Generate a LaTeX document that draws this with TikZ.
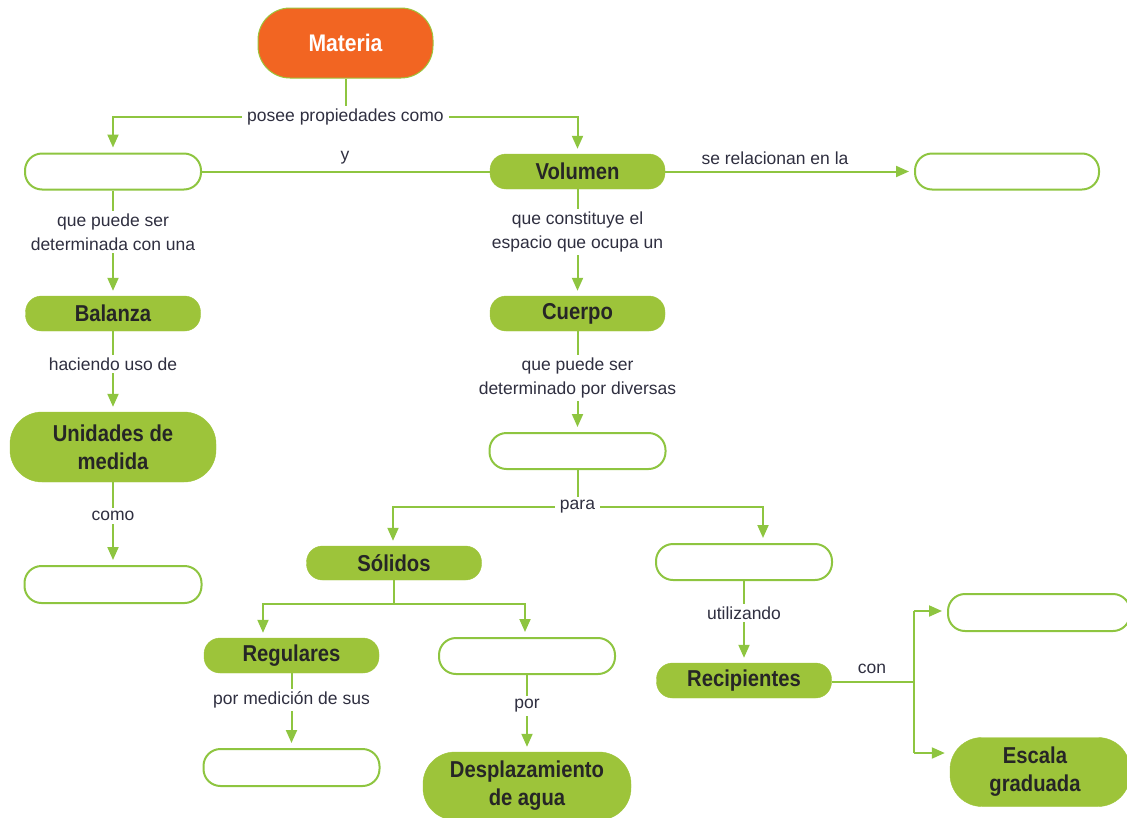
\documentclass[tikz,border=0pt]{standalone}
\usepackage{fontspec}
\setmainfont{Liberation Sans}
\newfontfamily\nodefont[FakeStretch=0.88]{Liberation Sans}
\newfontfamily\labfont{Liberation Sans}
\usetikzlibrary{arrows.meta,calc}
\definecolor{gfill}{HTML}{9DC43A}
\definecolor{lc}{HTML}{8EC540}
\definecolor{ofill}{HTML}{F26522}
\definecolor{tdark}{HTML}{262626}
\definecolor{ltext}{HTML}{2F2F40}
\begin{document}
\begin{tikzpicture}[x=1pt,y=-1pt,
  ln/.style={draw=lc,line width=2pt},
  arr/.style={ln,-{Triangle[length=13pt,width=11pt]},shorten >=5pt},
  gbox/.style={fill=gfill,draw=gfill,rounded corners=16pt,minimum width=175pt,minimum height=35pt,inner sep=0pt,font=\nodefont\bfseries\fontsize{23}{28}\selectfont,text=tdark,align=center},
  wbox/.style={fill=white,draw=lc,line width=2pt,rounded corners=17pt,minimum width=176pt,minimum height=36pt,inner sep=0pt},
  bigbox/.style={gbox,rounded corners=32pt,minimum height=70pt},
  lab/.style={fill=white,inner xsep=5pt,inner ysep=3pt,font=\labfont\fontsize{17.5}{24}\selectfont,text=ltext,align=center},
  labp/.style={lab,fill=none}]
\useasboundingbox (0,0) rectangle (1127,817);
% boxes
\node[bigbox,fill=ofill,draw=gfill,line width=1pt,text=white,font=\nodefont\bfseries\fontsize{24}{28}\selectfont] (materia) at (345.5,43) {Materia};
\node[wbox] (mas) at (113,171.5) {};
\node[gbox] (vol) at (577.5,171.5) {\raisebox{-1pt}{Volumen}};
\node[wbox,minimum width=184pt] (rel) at (1007,171.5) {};
\node[gbox] (bal) at (113,313.5) {\raisebox{-1pt}{Balanza}};
\node[bigbox,minimum width=206pt] (uni) at (113,447) {Unidades de\\medida};
\node[wbox,minimum width=177pt,minimum height=37pt] (ej) at (113,584.5) {};
\node[gbox] (cue) at (577.5,313.5) {\raisebox{-1pt}{Cuerpo}};
\node[wbox] (for) at (577.5,451) {};
\node[gbox,minimum height=34pt] (sol) at (394,563) {\raisebox{-1pt}{Sólidos}};
\node[wbox] (liq) at (744,562) {};
\node[gbox] (reg) at (291.5,655.5) {\raisebox{-1pt}{Regulares}};
\node[wbox] (irr) at (527,656) {};
\node[wbox,minimum height=37pt] (dim) at (291.5,767.5) {};
\node[bigbox,minimum width=208pt,minimum height=68pt] (des) at (527,786) {Desplazamiento\\de agua};
\node[gbox] (rec) at (744,680.5) {\raisebox{-1pt}{Recipientes}};
\node[wbox,minimum width=182pt,minimum height=37pt] (pro) at (1039,612.5) {};
\node[bigbox,minimum width=180pt,minimum height=69pt] (esc) at (1040,772) {\hspace*{-10pt}Escala\\\hspace*{-10pt}graduada};
% connectors
\coordinate (j1) at (345.5,117);
\draw[ln] (materia) -- (j1);
\draw[arr] (j1) -| (mas);
\draw[arr] (j1) -| (vol);
\draw[ln] (mas) -- (vol);
\draw[arr] (vol) -- (rel);
\draw[arr] (mas) -- (bal);
\draw[arr] (bal) -- (uni);
\draw[arr] (uni) -- (ej);
\draw[arr] (vol) -- (cue);
\draw[arr] (cue) -- (for);
\coordinate (j2) at (577.5,507);
\draw[ln] (for) -- (j2);
\draw[arr] (j2) -| ([xshift=-1pt]sol.north);
\draw[arr] (j2) -| ([xshift=19pt]liq.north);
\coordinate (j3) at (394,604);
\draw[ln] (sol) -- (j3);
\draw[arr] (j3) -| ([xshift=-28.5pt]reg.north);
\draw[arr] (j3) -| ([xshift=-2pt]irr.north);
\draw[arr] (reg) -- (dim);
\draw[arr] (irr) -- (des);
\draw[arr] (liq) -- (rec);
\coordinate (j4) at (914,682);
\coordinate (j5) at (914,611);
\coordinate (j6) at (914,753);
\draw[ln] (rec.east |- j4) -- (j4);
\draw[ln] (j5) -- (j6);
\draw[arr] (j5) -- (pro.west |- j5);
\draw[arr] (j6) -- (esc.west |- j6);
% labels
\node[lab] (l1) at (j1) {posee propiedades como};
\node[labp] (l2) at (345,158) {y};
\node[labp] (l3) at (775,158) {se relacionan en la};
\node[lab] (l4) at (113,232) {que puede ser\\determinada con una};
\node[lab] (l5) at (113,364) {haciendo uso de};
\node[lab] (l6) at (113,516) {como};
\node[lab] (l7) at (577.5,232) {que constituye el\\espacio que ocupa un};
\node[lab] (l8) at (577.5,378) {que puede ser\\determinado por diversas};
\node[lab] (l9) at (j2) {para};
\node[lab] (l10) at (291.5,700) {por medición de sus};
\node[lab] (l11) at (527,706) {por};
\node[lab] (l12) at (744,613) {utilizando};
\node[labp] (l13) at (872,669) {con};
\end{tikzpicture}
\end{document}
